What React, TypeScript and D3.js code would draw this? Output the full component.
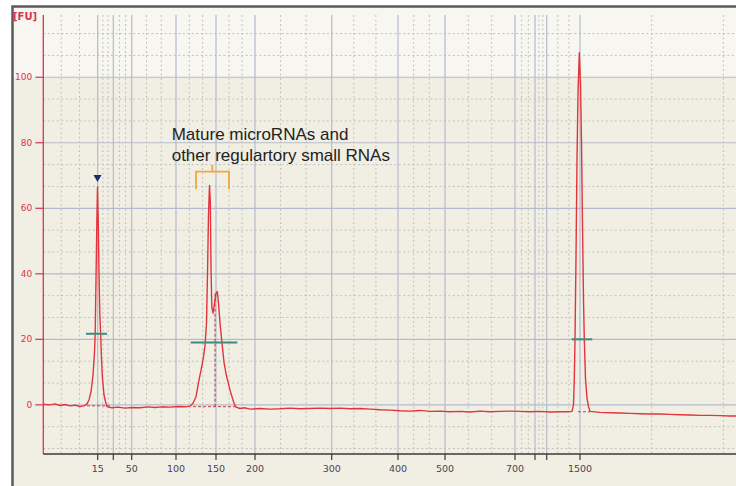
import React from 'react';
import * as d3 from 'd3';

// ---- data ----
const ladderLabels = ['15', '', '50', '100', '150', '200', '300', '400', '500', '700', '', '', '1500'];
const ladderTimes = [25.47, 27.03, 28.87, 33.3, 37.3, 41.2, 48.87, 55.5, 60.2, 67.2, 69.2, 70.37, 73.7];
const ladderNextTime = 95.2; // next ladder band beyond the visible window (for minor grid)
const yMajorTicks = [0, 20, 40, 60, 80, 100];

const traceTimes = [
  20.0, 20.7, 21.2, 21.7, 22.2, 22.7, 23.2, 23.7, 24.1,
  24.4, 24.6, 24.8, 25.0, 25.15, 25.22, 25.3, 25.38, 25.45, 25.53, 25.6, 25.68, 25.77, 25.85, 25.95, 26.1, 26.25, 26.4,
  26.9, 27.5, 28.2, 28.9, 29.7, 30.5, 31.2, 31.9, 32.7, 33.5, 34.2, 34.7,
  35.0, 35.3, 35.6, 35.8, 36.0, 36.2, 36.35, 36.45, 36.55, 36.65, 36.73, 36.8, 36.88, 37.0, 37.15, 37.3, 37.43, 37.55, 37.7, 37.87, 38.1, 38.3, 38.5, 38.7, 38.9, 39.1, 39.3,
  39.7, 40.2, 40.7, 41.7, 42.7, 43.7, 44.7, 45.7, 46.7, 47.7, 48.7, 49.7, 50.7, 51.7, 52.7, 53.7, 54.7, 55.7, 56.7, 57.7, 58.7, 59.7, 60.7, 61.7, 62.7, 63.7, 64.7, 65.7, 66.7, 67.7, 68.7, 69.7, 70.7, 71.7, 72.5, 72.9,
  73.05, 73.13, 73.2, 73.3, 73.4, 73.5, 73.63, 73.75, 73.85, 73.95, 74.05, 74.13, 74.25, 74.4, 74.55, 74.7,
  75.7, 76.7, 77.7, 78.7, 79.7, 80.7, 81.7, 82.7, 83.7, 84.7, 85.7, 86.7, 87.7, 88.7, 89.3,
];
const traceFU = [
  0.2, 0.0, 0.3, -0.2, 0.1, -0.3, -0.1, -0.5, -0.3,
  0.3, 1.5, 4, 9, 16, 22, 38, 55, 66.5, 55, 40, 28, 21, 14, 8, 3, 1, -0.5,
  -0.9, -0.7, -1.0, -0.8, -0.9, -0.6, -0.8, -0.6, -0.7, -0.5, -0.6, -0.4,
  0.5, 2.5, 7.6, 10.5, 13.7, 18, 25, 40, 58, 67, 62, 42, 30, 28, 31, 34, 34.6, 31, 25, 19.8, 13, 9.5, 7, 4.5, 2.5, 0.5, -0.7,
  -1.1, -0.9, -1.3, -1.1, -1.3, -1.2, -1.0, -1.2, -1.1, -1.0, -1.1, -1.0, -1.2, -1.1, -1.3, -1.5, -1.6, -1.8, -1.9, -1.7, -2.0, -1.9, -2.1, -2.0, -2.2, -1.9, -2.1, -2.0, -1.9, -2.0, -2.1, -2.0, -2.2, -2.1, -2.1, -2.0,
  0, 8, 20, 45, 75, 95, 107.5, 98, 80, 55, 32, 20, 8, 2, -0.5, -2.0,
  -2.3, -2.4, -2.5, -2.6, -2.7, -2.8, -2.8, -2.9, -3.0, -3.1, -3.2, -3.2, -3.3, -3.4, -3.4,
];

// peak width bars (start time, end time, FU level)
const peakBarStart = [24.3, 34.77, 72.87];
const peakBarEnd = [26.4, 39.43, 74.93];
const peakBarLevel = [21.7, 19, 20];
// peak baselines (dashed)
const peakBaseStart = [24.4, 35.0, 73.5];
const peakBaseEnd = [26.9, 39.4, 74.7];
const peakBaseLevel = [-0.3, -0.55, -2.1];
const markerTime = 25.45;
const markerFU = 68;
const bracketStart = 35.3;
const bracketEnd = 38.6;
const bracketMid = 36.93;
const annotationLines = ['Mature microRNAs and', 'other regulartory small RNAs'];

// ---- layout ----
const W = 736;
const H = 486;
const plotLeft = 43.3;
const plotTop = 15;
const plotBottom = 454;

export default function App() {
  const x = d3.scaleLinear().domain([20, 89.5]).range([43, 738]);
  const y = d3.scaleLinear().domain([-15, 119]).range([plotBottom, plotTop]);

  const data = traceTimes.map((t, i) => [t, traceFU[i]] as [number, number]);
  const line = d3
    .line<[number, number]>()
    .x((d) => x(d[0]))
    .y((d) => y(d[1]))
    .curve(d3.curveLinear);

  // minor vertical grid: thirds between consecutive ladder bands (starting from axis)
  const bands = [20, ...ladderTimes, ladderNextTime];
  const minorX: number[] = [];
  for (let i = 0; i < bands.length - 1; i++) {
    const a = bands[i];
    const b = bands[i + 1];
    minorX.push(a + (b - a) / 3, a + (2 * (b - a)) / 3);
  }
  const minorY: number[] = [];
  const yMinorBase = [-20, ...yMajorTicks, 120];
  for (let i = 0; i < yMinorBase.length - 1; i++) {
    const a = yMinorBase[i];
    const b = yMinorBase[i + 1];
    minorY.push(a + (b - a) / 3, a + (2 * (b - a)) / 3);
  }

  const gridSolid = '#b6bacd';
  const gridDot = '#c2c2bd';
  const red = '#e2343c';
  const axisRed = '#d93350';
  const teal = '#3f8a7c';

  return (
    <svg
      width={W}
      height={H}
      style={{ position: 'absolute', left: 0, top: 0, background: '#ffffff' }}
      xmlns="http://www.w3.org/2000/svg"
    >
      <defs>
        <clipPath id="plotclip">
          <rect x={14} y={plotTop} width={W - 14} height={plotBottom - plotTop} />
        </clipPath>
      </defs>
      {/* frame */}
      <rect x={12.5} y={6.5} width={W} height={H} fill="#f1efe3" stroke="#5b5b5b" strokeWidth={2.5} />
      <rect x={14} y={8} width={W - 14} height={y(100) - 8} fill="#f7f6f0" />

      {/* minor grid */}
      {minorY
        .filter((v) => y(v) >= plotTop && y(v) <= plotBottom)
        .map((v, i) => (
          <line
            key={'my' + i}
            x1={plotLeft}
            x2={W}
            y1={y(v)}
            y2={y(v)}
            stroke={gridDot}
            strokeWidth={1}
            strokeDasharray="2,2.5"
          />
        ))}
      {minorX
        .filter((t) => x(t) > plotLeft + 2 && x(t) <= W)
        .map((t, i) => (
          <line
            key={'mx' + i}
            x1={x(t)}
            x2={x(t)}
            y1={plotTop}
            y2={plotBottom}
            stroke={gridDot}
            strokeWidth={1}
            strokeDasharray="2,2.5"
          />
        ))}
      {/* major grid */}
      {yMajorTicks.map((v) => (
        <line key={'gy' + v} x1={plotLeft} x2={W} y1={y(v)} y2={y(v)} stroke={gridSolid} strokeWidth={1.2} />
      ))}
      {ladderTimes.map((t, i) => (
        <line key={'gx' + i} x1={x(t)} x2={x(t)} y1={plotTop} y2={plotBottom} stroke={gridSolid} strokeWidth={1.2} />
      ))}

      {/* peak baselines */}
      {peakBaseStart.map((s, i) => (
        <line
          key={'pb' + i}
          x1={x(s)}
          x2={x(peakBaseEnd[i])}
          y1={y(peakBaseLevel[i])}
          y2={y(peakBaseLevel[i])}
          stroke="#c0404a"
          strokeWidth={1}
          strokeDasharray="3,2"
        />
      ))}
      <line
        x1={x(37.2)}
        x2={x(37.2)}
        y1={y(peakBaseLevel[1])}
        y2={y(34)}
        stroke="#a03a48"
        strokeWidth={1}
        strokeDasharray="3,2"
      />

      {/* trace */}
      <g clipPath="url(#plotclip)">
        <path d={line(data) || ''} fill="none" stroke={red} strokeWidth={1.4} strokeLinejoin="round" />
      </g>

      {/* peak width bars */}
      {peakBarStart.map((s, i) => (
        <line
          key={'bar' + i}
          x1={x(s)}
          x2={x(peakBarEnd[i])}
          y1={y(peakBarLevel[i])}
          y2={y(peakBarLevel[i])}
          stroke={teal}
          strokeWidth={2}
        />
      ))}

      {/* marker triangle */}
      <path
        d={`M${x(markerTime) - 4},${y(markerFU) - 7} L${x(markerTime) + 4},${y(markerFU) - 7} L${x(markerTime)},${y(markerFU)} Z`}
        fill="#1c2a6a"
      />

      {/* bracket */}
      <path
        d={`M${x(bracketStart)},${y(65.8)} L${x(bracketStart)},${y(71.2)} L${x(bracketEnd)},${y(71.2)} L${x(bracketEnd)},${y(65.8)} M${x(bracketMid)},${y(71.2)} L${x(bracketMid)},${y(73.2)}`}
        fill="none"
        stroke="#f0a83a"
        strokeWidth={1.8}
      />
      {/* annotation */}
      <text
        x={x(32.87)}
        y={y(80.9)}
        fontFamily="'Liberation Sans', Arial, sans-serif"
        fontSize={17}
        fill="#222"
      >
        {annotationLines[0]}
      </text>
      <text
        x={x(32.87)}
        y={y(74.3)}
        fontFamily="'Liberation Sans', Arial, sans-serif"
        fontSize={17}
        fill="#222"
      >
        {annotationLines[1]}
      </text>

      {/* y axis */}
      <line x1={plotLeft} x2={plotLeft} y1={plotTop} y2={plotBottom} stroke={axisRed} strokeWidth={1.3} />
      {yMajorTicks.map((v) => (
        <g key={'yt' + v}>
          <line x1={plotLeft - 8} x2={plotLeft} y1={y(v)} y2={y(v)} stroke={axisRed} strokeWidth={1.2} />
          <text
            x={plotLeft - 11}
            y={y(v)}
            dy="0.35em"
            textAnchor="end"
            fontFamily="'DejaVu Sans', sans-serif"
            fontSize={9}
            fill={axisRed}
          >
            {v}
          </text>
        </g>
      ))}
      <text x={13} y={20} fontFamily="'DejaVu Sans', sans-serif" fontSize={10} fontWeight="bold" fill={axisRed}>
        [FU]
      </text>

      {/* x axis */}
      <line x1={plotLeft} x2={W} y1={plotBottom} y2={plotBottom} stroke="#3a3a3a" strokeWidth={1.3} />
      {ladderTimes.map((t, i) => (
        <g key={'xt' + i}>
          <line x1={x(t)} x2={x(t)} y1={plotBottom} y2={plotBottom + 6} stroke="#3a3a3a" strokeWidth={1.2} />
          <text
            x={x(t)}
            y={plotBottom + 18}
            textAnchor="middle"
            fontFamily="'DejaVu Sans', sans-serif"
            fontSize={9.5}
            fill="#4a4256"
          >
            {ladderLabels[i]}
          </text>
        </g>
      ))}
    </svg>
  );
}
